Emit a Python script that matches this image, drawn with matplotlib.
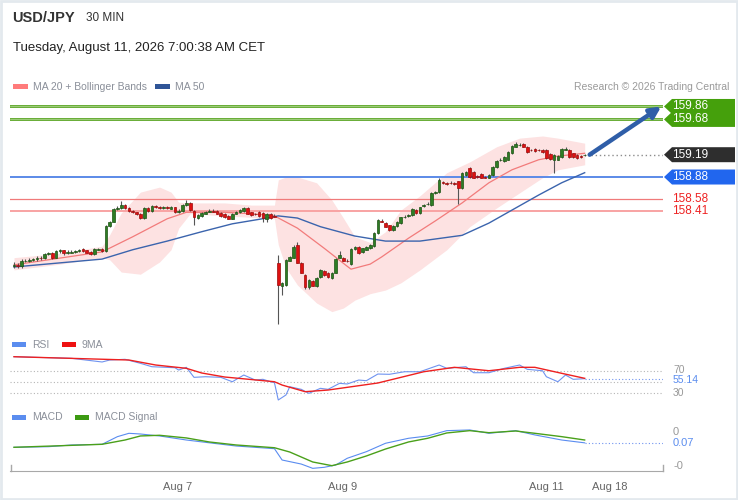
import matplotlib
matplotlib.use("Agg")
import matplotlib.pyplot as plt
from matplotlib.patches import Polygon, Rectangle
from matplotlib.transforms import blended_transform_factory

plt.rcParams['font.family'] = ['Liberation Sans', 'DejaVu Sans']

# ---- price candles (30 min) ----
opens = [
    157.64, 157.66, 157.64, 157.71, 157.72, 157.73, 157.74, 157.76, 157.75, 157.81,
    157.82, 157.76, 157.85, 157.86, 157.82, 157.83, 157.84, 157.85, 157.88, 157.86,
    157.84, 157.81, 157.87, 157.88, 157.85, 158.20, 158.26, 158.44, 158.45, 158.49,
    158.45, 158.41, 158.39, 158.37, 158.31, 158.45, 158.41, 158.48, 158.46, 158.45,
    158.46, 158.44, 158.46, 158.40, 158.41, 158.49, 158.52, 158.41, 158.31, 158.34,
    158.37, 158.40, 158.41, 158.41, 158.38, 158.37, 158.34, 158.30, 158.37, 158.39,
    158.41, 158.45, 158.39, 158.37, 158.39, 158.38, 158.30, 158.37, 158.34, 157.69,
    157.37, 157.38, 157.72, 157.76, 157.94, 157.69, 157.52, 157.35, 157.44, 157.37,
    157.49, 157.58, 157.55, 157.48, 157.55, 157.76, 157.76, 157.72, 157.67, 157.88,
    157.91, 157.84, 157.87, 157.89, 157.92, 158.10, 158.27, 158.24, 158.21, 158.14,
    158.20, 158.24, 158.32, 158.34, 158.35, 158.42, 158.38, 158.48, 158.50, 158.49,
    158.66, 158.67, 158.81, 158.79, 158.80, 158.79, 158.82, 158.73, 158.91, 159.01,
    158.95, 158.89, 158.92, 158.88, 158.87, 158.91, 159.02, 159.11, 159.10, 159.12,
    159.21, 159.30, 159.32, 159.34, 159.30, 159.26, 159.27, 159.26, 159.26, 159.26,
    159.20, 159.12, 159.12, 159.16, 159.26, 159.26, 159.21, 159.19, 159.17, 159.18,
]
closes = [
    157.66, 157.65, 157.72, 157.72, 157.73, 157.74, 157.76, 157.75, 157.81, 157.82,
    157.76, 157.85, 157.86, 157.82, 157.84, 157.84, 157.85, 157.86, 157.85, 157.83,
    157.81, 157.88, 157.88, 157.85, 158.20, 158.26, 158.44, 158.45, 158.49, 158.45,
    158.41, 158.39, 158.37, 158.31, 158.45, 158.41, 158.48, 158.46, 158.45, 158.46,
    158.45, 158.46, 158.39, 158.41, 158.49, 158.52, 158.42, 158.32, 158.35, 158.38,
    158.39, 158.41, 158.40, 158.37, 158.34, 158.32, 158.30, 158.37, 158.39, 158.42,
    158.45, 158.37, 158.35, 158.36, 158.34, 158.31, 158.37, 158.31, 158.33, 157.38,
    157.41, 157.73, 157.77, 157.91, 157.69, 157.55, 157.35, 157.45, 157.37, 157.48,
    157.59, 157.52, 157.49, 157.55, 157.74, 157.80, 157.72, 157.71, 157.88, 157.91,
    157.82, 157.89, 157.91, 157.94, 158.10, 158.28, 158.26, 158.19, 158.14, 158.20,
    158.26, 158.32, 158.33, 158.35, 158.44, 158.38, 158.46, 158.49, 158.51, 158.66,
    158.67, 158.84, 158.80, 158.78, 158.79, 158.78, 158.73, 158.94, 158.95, 158.88,
    158.87, 158.88, 158.87, 158.87, 158.91, 159.02, 159.10, 159.12, 159.16, 159.23,
    159.31, 159.34, 159.33, 159.30, 159.23, 159.25, 159.24, 159.25, 159.23, 159.14,
    159.13, 159.19, 159.17, 159.27, 159.27, 159.16, 159.16, 159.14, 159.16, 159.19,
]
highs = [
    157.70, 157.69, 157.74, 157.74, 157.75, 157.76, 157.78, 157.78, 157.83, 157.84,
    157.84, 157.87, 157.88, 157.87, 157.86, 157.86, 157.87, 157.88, 157.90, 157.87,
    157.85, 157.90, 157.90, 157.89, 158.21, 158.27, 158.45, 158.48, 158.55, 158.50,
    158.46, 158.42, 158.40, 158.38, 158.46, 158.47, 158.49, 158.49, 158.48, 158.48,
    158.48, 158.48, 158.47, 158.43, 158.50, 158.56, 158.53, 158.42, 158.36, 158.39,
    158.41, 158.43, 158.43, 158.42, 158.39, 158.38, 158.35, 158.38, 158.41, 158.43,
    158.47, 158.46, 158.40, 158.38, 158.41, 158.39, 158.38, 158.38, 158.36, 157.80,
    157.42, 157.74, 157.78, 157.93, 157.98, 157.70, 157.53, 157.46, 157.45, 157.49,
    157.60, 157.59, 157.56, 157.56, 157.75, 157.85, 157.77, 157.74, 157.89, 157.92,
    157.92, 157.90, 157.92, 157.95, 158.11, 158.29, 158.29, 158.25, 158.22, 158.21,
    158.27, 158.33, 158.35, 158.37, 158.45, 158.43, 158.47, 158.51, 158.53, 158.67,
    158.69, 158.86, 158.83, 158.81, 158.82, 158.81, 158.83, 158.95, 158.97, 159.02,
    158.96, 158.91, 158.93, 158.90, 158.92, 159.03, 159.11, 159.14, 159.17, 159.24,
    159.32, 159.37, 159.35, 159.35, 159.31, 159.27, 159.28, 159.27, 159.27, 159.27,
    159.21, 159.20, 159.18, 159.28, 159.29, 159.27, 159.22, 159.20, 159.19, 159.20,
]
lows = [
    157.62, 157.62, 157.62, 157.70, 157.70, 157.71, 157.72, 157.73, 157.74, 157.79,
    157.74, 157.75, 157.83, 157.80, 157.81, 157.82, 157.83, 157.84, 157.84, 157.82,
    157.80, 157.80, 157.86, 157.84, 157.84, 158.18, 158.25, 158.42, 158.44, 158.44,
    158.40, 158.38, 158.35, 158.29, 158.29, 158.40, 158.40, 158.45, 158.43, 158.43,
    158.43, 158.43, 158.38, 158.38, 158.40, 158.48, 158.41, 158.21, 158.29, 158.33,
    158.36, 158.39, 158.39, 158.36, 158.33, 158.31, 158.29, 158.29, 158.36, 158.38,
    158.40, 158.36, 158.34, 158.35, 158.33, 158.26, 158.26, 158.30, 158.32, 156.84,
    157.24, 157.37, 157.71, 157.75, 157.68, 157.54, 157.33, 157.33, 157.36, 157.35,
    157.48, 157.51, 157.48, 157.47, 157.54, 157.75, 157.71, 157.70, 157.66, 157.87,
    157.81, 157.83, 157.86, 157.88, 157.91, 158.09, 158.25, 158.18, 158.13, 158.13,
    158.19, 158.23, 158.31, 158.33, 158.34, 158.37, 158.37, 158.47, 158.49, 158.48,
    158.65, 158.66, 158.78, 158.77, 158.78, 158.77, 158.51, 158.72, 158.90, 158.87,
    158.86, 158.87, 158.86, 158.86, 158.86, 158.90, 159.01, 159.10, 159.09, 159.11,
    159.20, 159.29, 159.31, 159.29, 159.22, 159.24, 159.23, 159.24, 159.22, 159.13,
    159.12, 158.94, 159.11, 159.15, 159.25, 159.15, 159.15, 159.13, 159.15, 159.17,
]

# ---- moving averages / bands (read at sample candles) ----
ma50_idx = [0, 23, 31, 40, 49, 57, 66, 69, 74, 80, 89, 97, 106, 117, 124, 130, 137, 143, 149]
ma50 = [157.63, 157.74, 157.87, 157.99, 158.12, 158.23, 158.31, 158.34, 158.31, 158.19,
        158.06, 157.99, 157.99, 158.07, 158.24, 158.42, 158.63, 158.80, 158.94]
ma20_idx = [0, 23, 31, 40, 45, 55, 62, 68, 74, 81, 87, 88, 93, 96, 103, 110, 117, 124,
            130, 137, 142, 149]
ma20 = [157.66, 157.84, 158.05, 158.30, 158.39, 158.39, 158.37, 158.34, 158.17, 157.89,
        157.64, 157.60, 157.67, 157.77, 158.03, 158.27, 158.52, 158.80, 158.98, 159.12,
        159.17, 159.21]
bb_idx = [0, 12, 23, 25, 28, 33, 38, 41, 43, 46, 55, 62, 68, 69, 71, 74, 79, 83, 86, 89,
          93, 97, 101, 106, 113, 119, 126, 132, 138, 142, 149]
bb_upper = [157.76, 157.82, 157.92, 158.08, 158.38, 158.67, 158.74, 158.67, 158.53, 158.52,
            158.52, 158.49, 158.49, 158.84, 158.88, 158.88, 158.80, 158.56, 158.31, 158.05,
            157.97, 158.12, 158.42, 158.62, 158.94, 159.09, 159.30, 159.42, 159.45, 159.42,
            159.35]
bb_lower = [157.59, 157.67, 157.76, 157.73, 157.56, 157.53, 157.70, 157.87, 158.17, 158.37,
            158.34, 158.32, 158.30, 157.94, 157.62, 157.38, 157.13, 157.01, 157.06, 157.17,
            157.26, 157.31, 157.41, 157.59, 157.87, 158.19, 158.45, 158.66, 158.87, 158.98,
            159.05]

# ---- key levels ----
resist_levels = [159.86, 159.68]
pivot_level = 158.88
support_levels = [158.58, 158.41]
last_price = 159.19
target_price = 159.86

# ---- RSI / MACD ----
rsi_idx = [0, 9, 15, 23, 25, 29, 33, 36, 42, 43, 45, 47, 50, 54, 57, 60, 63, 65, 67, 68,
           69, 71, 72, 75, 77, 80, 82, 85, 87, 90, 92, 95, 98, 102, 106, 111, 113, 118, 120,
           124, 128, 132, 134, 138, 139, 142, 144, 146, 149]
rsi = [95.1, 93.3, 92.2, 85.5, 89.1, 90.4, 83.1, 76.9, 75.1, 70.9, 75.8, 57.6, 58.7, 57.6,
       49.6, 61.8, 52.7, 54.0, 49.6, 47.8, 16.4, 25.5, 40.5, 35.8, 28.5, 37.6, 35.8, 46.7,
       45.5, 52.7, 51.5, 63.6, 63.1, 67.8, 67.8, 80.0, 74.0, 76.9, 66.0, 66.0, 74.0, 80.0,
       72.2, 69.6, 58.7, 49.6, 61.8, 54.0, 55.14]
rsi_ma_idx = [0, 30, 37, 45, 49, 55, 68, 70, 76, 82, 95, 107, 115, 124, 132, 136, 143, 149]
rsi_ma9 = [95.1, 89.1, 80.0, 74.0, 65.5, 58.2, 49.6, 43.6, 31.5, 34.5, 47.3, 67.8, 75.8,
           69.6, 75.8, 75.8, 64.9, 55.8]
rsi_levels = [70, 50, 30]

macd_idx = [0, 9, 15, 23, 27, 30, 33, 38, 45, 52, 58, 68, 70, 75, 78, 81, 84, 87, 92, 97,
            103, 108, 113, 119, 124, 131, 136, 143, 149]
macd = [0.018, 0.025, 0.045, 0.053, 0.142, 0.181, 0.173, 0.150, 0.103, 0.065, 0.033, 0.002,
        -0.130, -0.177, -0.227, -0.215, -0.188, -0.110, -0.033, 0.065, 0.123, 0.150, 0.212,
        0.220, 0.181, 0.212, 0.162, 0.103, 0.07]
signal_idx = [0, 23, 29, 33, 38, 45, 51, 58, 68, 72, 78, 83, 87, 92, 97, 103, 108, 113, 119,
              124, 131, 136, 143, 149]
macd_signal = [0.018, 0.053, 0.103, 0.150, 0.158, 0.127, 0.080, 0.045, 0.013, -0.037,
               -0.153, -0.196, -0.153, -0.083, -0.002, 0.080, 0.123, 0.185, 0.212, 0.188,
               0.208, 0.181, 0.142, 0.103]

date_pos = [42.8, 85.9, 138.9, 155.6]
date_labels = ["Aug 7", "Aug 9", "Aug 11", "Aug 18"]

# ---- layout (pixels) ----
W, H = 738, 500
X0, X1 = 10, 663
XLIM = (-1.044, 169.45)

fig = plt.figure(figsize=(W / 100, H / 100), dpi=100)
fig.patch.set_facecolor("white")


def px_rect(left, top, right, bottom):
    return [left / W, 1 - bottom / H, (right - left) / W, (bottom - top) / H]


ov = fig.add_axes([0, 0, 1, 1])
ov.set_xlim(0, W)
ov.set_ylim(H, 0)
ov.axis("off")

ax = fig.add_axes(px_rect(X0, 93, X1, 330))
ax_rsi = fig.add_axes(px_rect(X0, 350, X1, 405))
ax_macd = fig.add_axes(px_rect(X0, 420, X1, 471))
for a in (ax, ax_rsi, ax_macd):
    a.set_facecolor("none")
    a.set_xlim(*XLIM)
    for s in a.spines.values():
        s.set_visible(False)
    a.set_yticks([])
    a.tick_params(axis="x", length=0, labelbottom=False)

ax.set_ylim(156.755, 160.047)
ax_rsi.set_ylim(7.3, 107.3)
ax_macd.set_ylim(-0.258, 0.336)

# frame
ov.add_patch(Rectangle((1, 1), W - 2, H - 2, fill=False, ec="#e3e9ee", lw=2))

# header
ov.text(12, 18, "USD/JPY", fontsize=10.5, fontweight="bold", color="#333333", va="center")
ov.text(86, 18, "30 MIN", fontsize=8.5, color="#333333", va="center")
ov.text(13, 48, "Tuesday, August 11, 2026 7:00:38 AM CET", fontsize=9.5, color="#222222",
        va="center")
ov.add_patch(Rectangle((13, 84), 15, 4.5, color="#ff7b7b", lw=0))
ov.text(33, 86.5, "MA 20 + Bollinger Bands", fontsize=7.5, color="#8a8f99", va="center")
ov.add_patch(Rectangle((155, 84), 15, 4.5, color="#2f5597", lw=0))
ov.text(175, 86.5, "MA 50", fontsize=7.5, color="#8a8f99", va="center")
ov.text(729, 86.5, "Research \u00a9 2026 Trading Central", fontsize=7.5, color="#9a9a9a",
        va="center", ha="right")

# bollinger band + MAs
ax.fill_between(bb_idx, bb_lower, bb_upper, color="#fde2e2", lw=0, zorder=1)
ax.plot(ma20_idx, ma20, color="#f27b7b", lw=0.9, zorder=3)
ax.plot(ma50_idx, ma50, color="#3b64ad", lw=1.0, zorder=3)

# levels
for lv in resist_levels:
    ax.axhline(lv, color="#4b9d10", lw=1.9, zorder=2)
    ax.axhline(lv, color="#bfe0a6", lw=0.5, zorder=2)
ax.axhline(pivot_level, color="#5b8ae8", lw=1.4, zorder=2)
ax.axhline(support_levels[0], color="#f07a7a", lw=0.9, zorder=2)
ax.axhline(support_levels[1], color="#f8a3a3", lw=1.4, zorder=2)

# candles
n = len(closes)
xs = list(range(n))
ax.vlines(xs, lows, highs, color="#555555", lw=0.8, zorder=4)
bodies_b = [min(o, c) for o, c in zip(opens, closes)]
bodies_h = [max(abs(c - o), 0.01) for o, c in zip(opens, closes)]
face = ["#2e7d24" if c >= o else "#dd1111" for o, c in zip(opens, closes)]
edge = ["#1d5314" if c >= o else "#9e0a0a" for o, c in zip(opens, closes)]
ax.bar(xs, bodies_h, bottom=bodies_b, width=0.7, color=face, edgecolor=edge, lw=0.5,
       zorder=5)

# last price dotted + forecast arrow
ax.plot([n + 0.6, XLIM[1]], [last_price, last_price], color="#8c8c8c", lw=1,
        ls=(0, (1, 2)), zorder=2)
ax.annotate("", xy=(169.0, target_price), xytext=(n + 0.3, closes[-1]),
            arrowprops=dict(arrowstyle="-|>", color="#2f5ea8", lw=3.2, mutation_scale=16,
                            shrinkA=0, shrinkB=0), zorder=6)

# price tags on right
ppu = (330 - 93) / (ax.get_ylim()[1] - ax.get_ylim()[0])
tr = blended_transform_factory(ov.transData, ax.transData)


def tag(value, text, bg):
    h = 7.5 / ppu
    pts = [(X1 + 1, value), (X1 + 9, value + h), (735, value + h), (735, value - h),
           (X1 + 9, value - h)]
    ax.add_patch(Polygon(pts, closed=True, color=bg, lw=0, transform=tr, clip_on=False))
    ax.text(672, value, text, transform=tr, color="white", fontsize=8.5, va="center",
            clip_on=False)


for lv in resist_levels:
    tag(lv, f"{lv:.2f}", "#45a00c")
tag(last_price, f"{last_price:.2f}", "#2e2e2e")
tag(pivot_level, f"{pivot_level:.2f}", "#2166ee")
for lv in support_levels:
    ax.text(672, lv, f"{lv:.2f}", transform=tr, color="#ee2222", fontsize=8.5,
            va="center", clip_on=False)

# RSI panel
ov.add_patch(Rectangle((12, 342), 14, 4.5, color="#5b8def", lw=0))
ov.text(32, 344.5, "RSI", fontsize=7.5, color="#8a8f99", va="center")
ov.add_patch(Rectangle((62, 342), 14, 4.5, color="#ee1111", lw=0))
ov.text(82, 344.5, "9MA", fontsize=7.5, color="#8a8f99", va="center")
for lv in rsi_levels:
    ax_rsi.axhline(lv, color="#b5b5b5", lw=0.8, ls=(0, (1, 2)))
ax_rsi.plot(rsi_idx, rsi, color="#6f93f0", lw=0.8, zorder=3)
ax_rsi.plot(rsi_ma_idx, rsi_ma9, color="#ee2020", lw=1.0, zorder=4)
ax_rsi.plot([rsi_idx[-1], XLIM[1]], [rsi[-1], rsi[-1]], color="#6f93f0", lw=0.8,
            ls=(0, (1, 2)))
tr_rsi = blended_transform_factory(ov.transData, ax_rsi.transData)
ax_rsi.text(673, 71, "70", transform=tr_rsi, fontsize=7.5, color="#999999", va="center",
            clip_on=False)
ax_rsi.text(673, 30, "30", transform=tr_rsi, fontsize=7.5, color="#999999", va="center",
            clip_on=False)
ax_rsi.text(673, rsi[-1] - 1.5, f"{rsi[-1]:.2f}", transform=tr_rsi, fontsize=7.5,
            color="#5b8def", va="center", clip_on=False,
            bbox=dict(facecolor="white", edgecolor="none", pad=0.2))

# MACD panel
ov.add_patch(Rectangle((12, 415), 14, 4.5, color="#5b8def", lw=0))
ov.text(32, 417.5, "MACD", fontsize=7.5, color="#8a8f99", va="center")
ov.add_patch(Rectangle((75, 415), 14, 4.5, color="#3c9a12", lw=0))
ov.text(95, 417.5, "MACD Signal", fontsize=7.5, color="#8a8f99", va="center")
ax_macd.plot(macd_idx, macd, color="#5a8cf0", lw=0.8, zorder=3)
ax_macd.plot(signal_idx, macd_signal, color="#4aa01a", lw=1.0, zorder=4)
ax_macd.plot([macd_idx[-1], XLIM[1]], [macd[-1], macd[-1]], color="#6f93f0", lw=0.8,
             ls=(0, (1, 2)))
tr_macd = blended_transform_factory(ov.transData, ax_macd.transData)
ax_macd.text(673, 0.2, "0", transform=tr_macd, fontsize=8, color="#999999", va="center",
             clip_on=False)
ax_macd.text(673, -0.2, "-0", transform=tr_macd, fontsize=8, color="#999999", va="center",
             clip_on=False)
ax_macd.text(673, macd[-1], f"{macd[-1]:.2f}", transform=tr_macd, fontsize=8,
             color="#5b8def", va="center", clip_on=False)

# time axis
ax_macd.spines["bottom"].set_visible(True)
ax_macd.spines["bottom"].set_color("#a8a8a8")
ax_macd.set_xticks(date_pos)
ax_macd.set_xticklabels(date_labels)
ax_macd.tick_params(axis="x", length=0, pad=8, labelsize=8, labelcolor="#666666",
                    labelbottom=True)
ov.plot([X0 + 0.5, X0 + 0.5], [465, 471], color="#a8a8a8", lw=1)
ov.plot([X1 - 0.5, X1 - 0.5], [465, 471], color="#a8a8a8", lw=1)

fig.savefig("out.png", dpi=100)
